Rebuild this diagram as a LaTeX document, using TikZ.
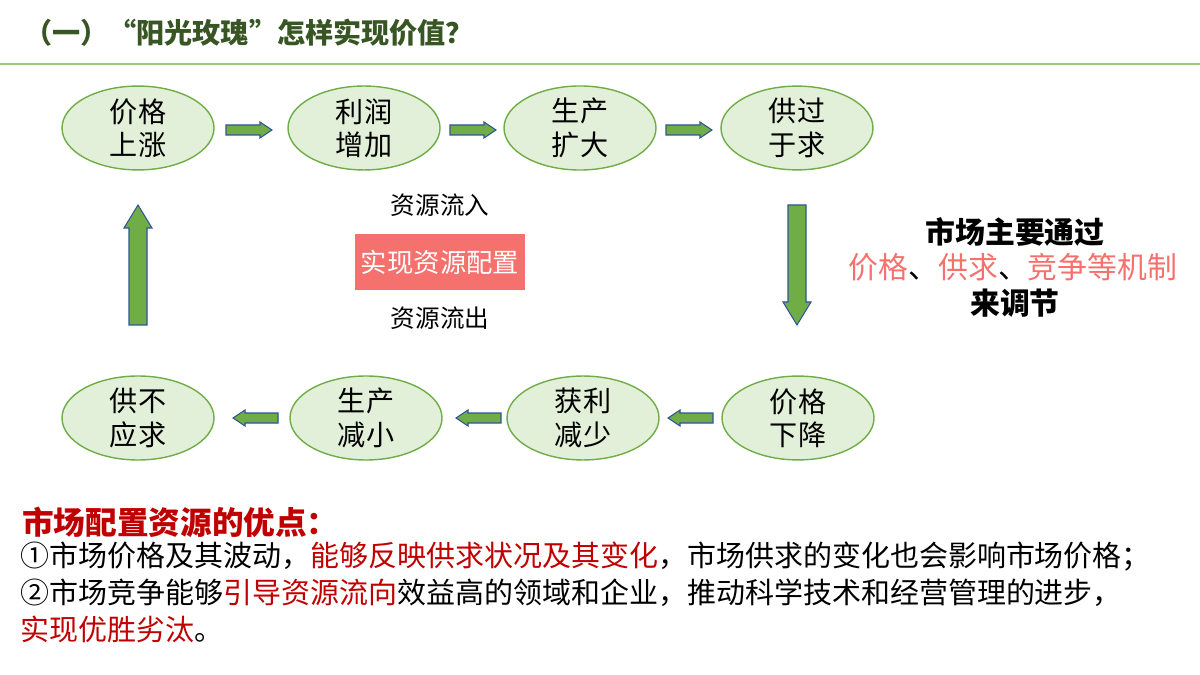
\documentclass[tikz,border=0pt]{standalone}
\usepackage{fontspec}
\setmainfont{Noto Sans CJK SC}
\usetikzlibrary{shapes.geometric}
\definecolor{ttl}{HTML}{375623}
\definecolor{ell}{HTML}{E2EFD9}
\definecolor{elb}{HTML}{70AD47}
\definecolor{arf}{HTML}{70AD47}
\definecolor{arb}{HTML}{2F5597}
\definecolor{redt}{HTML}{C00000}
\definecolor{pink}{HTML}{F4716E}
\tikzset{
 el/.style={ellipse,draw=elb,fill=ell,line width=0.8pt,minimum width=152*0.02cm,minimum height=72*0.02cm,font=\fontsize{16}{19}\selectfont,align=center,inner sep=0pt},
 blk/.style={draw=arb,fill=arf,line width=0.6pt},
 txt/.style={font=\fontsize{14}{17}\selectfont},
 body/.style={font=\fontsize{16.5}{20}\selectfont,anchor=west,inner sep=0pt}
}
\newcommand\rarr[3]{\draw[blk] (#1,#2-5) -- (#1+#3-12,#2-5) -- (#1+#3-12,#2-8) -- (#1+#3,#2) -- (#1+#3-12,#2+8) -- (#1+#3-12,#2+5) -- (#1,#2+5) -- cycle;}
\newcommand\larr[3]{\draw[blk] (#1,#2-5) -- (#1-#3+12,#2-5) -- (#1-#3+12,#2-8) -- (#1-#3,#2) -- (#1-#3+12,#2+8) -- (#1-#3+12,#2+5) -- (#1,#2+5) -- cycle;}
\begin{document}
\begin{tikzpicture}[x=0.02cm,y=-0.02cm]
\useasboundingbox (0,0) rectangle (1200,675);
\node[anchor=west,text=ttl,font=\bfseries\fontsize{16}{19}\selectfont] (title) at (18,33) {（一）“阳光玫瑰”怎样实现价值？};
\draw[elb!70,line width=0.8pt] (0,64) -- (1200,64);
\node[el] (a1) at (138,128) {价格\\上涨};
\node[el] (a2) at (364,128) {利润\\增加};
\node[el] (a3) at (580,128) {生产\\扩大};
\node[el] (a4) at (797,128) {供过\\于求};
\node[el] (b4) at (798,418) {价格\\下降};
\node[el] (b3) at (583,418) {获利\\减少};
\node[el] (b2) at (366,418) {生产\\减小};
\node[el] (b1) at (138,418) {供不\\应求};
\rarr{226}{130}{46}
\rarr{450}{130}{46}
\rarr{666}{130}{46}
\larr{713}{418}{45}
\larr{501}{418}{45}
\larr{278}{418}{45}
\draw[blk] (129,325) -- (129,228) -- (124,228) -- (138,205) -- (152,228) -- (147,228) -- (147,325) -- cycle;
\draw[blk] (788,205) -- (788,302) -- (783,302) -- (797,325) -- (811,302) -- (806,302) -- (806,205) -- cycle;
\node[fill=pink,text=white,minimum width=168*0.02cm,minimum height=56*0.02cm,font=\fontsize{15}{18}\selectfont] (box) at (440,262) {实现资源配置};
\node[txt] (in) at (440,205) {资源流入};
\node[txt] (out) at (440,318) {资源流出};
\node[font=\bfseries\fontsize{17}{21}\selectfont] (m1) at (1015,232) {市场主要通过};
\node[font=\fontsize{17}{21}\selectfont] (m2) at (1013,267) {\textcolor{pink}{价格}、\textcolor{pink}{供求}、\textcolor{pink}{竞争等机制}};
\node[font=\bfseries\fontsize{17}{21}\selectfont] (m3) at (1015,303) {来调节};
\node[body,text=redt,font=\bfseries\fontsize{18}{21}\selectfont] (h) at (22,522) {市场配置资源的优点：};
\node[body] (p1) at (20,557) {①市场价格及其波动，\textcolor{redt}{能够反映供求状况及其变化}，市场供求的变化也会影响市场价格；};
\node[body] (p2) at (20,593) {②市场竞争能够\textcolor{redt}{引导资源流向}效益高的领域和企业，推动科学技术和经营管理的进步，};
\node[body] (p3) at (20,629) {\textcolor{redt}{实现优胜劣汰}。};
\end{tikzpicture}
\end{document}
